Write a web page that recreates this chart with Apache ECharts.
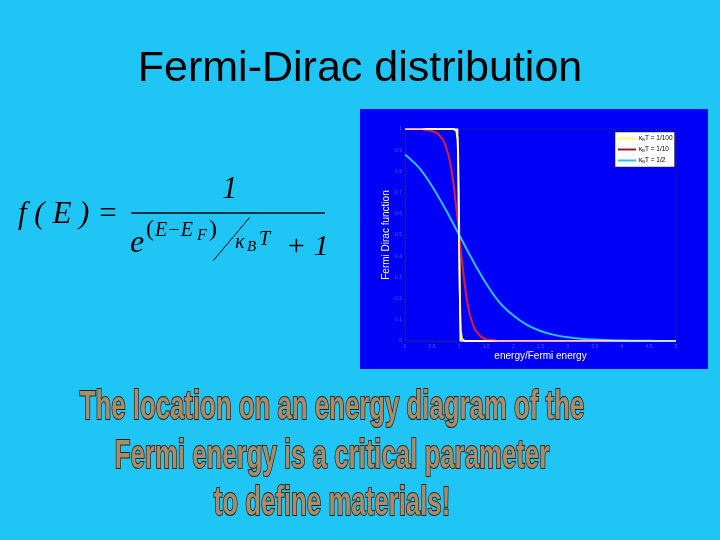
<!DOCTYPE html>
<html><head><meta charset="utf-8">
<script src="https://cdn.jsdelivr.net/npm/echarts@6/dist/echarts.min.js"></script>
<style>html,body{margin:0;padding:0;background:#1fc6f5;}#c{width:720px;height:540px;}</style>
</head><body><div id="c"></div>
<script>
// x values: energy / Fermi energy ; y: Fermi Dirac function
var xTicks = [0, 0.5, 1, 1.5, 2, 2.5, 3, 3.5, 4, 4.5, 5];
var yTicks = [0, 0.1, 0.2, 0.3, 0.4, 0.5, 0.6, 0.7, 0.8, 0.9, 1];
var seriesNames = ['kT100', 'kT10', 'kT2'];
var legendLabels = ['1/100', '1/10', '1/2'];
var kT100X = [0, 0.9, 0.95, 0.97, 0.98, 0.99, 1.0, 1.01, 1.02, 1.03, 1.05, 1.1, 5];
var kT100Y = [1, 1, 0.99, 0.95, 0.88, 0.73, 0.5, 0.27, 0.12, 0.05, 0.01, 0, 0];
var kT10X = [0, 0.3, 0.5, 0.6, 0.7, 0.75, 0.8, 0.85, 0.9, 0.95, 1.0, 1.05, 1.1, 1.15, 1.2, 1.25, 1.3, 1.4, 1.5, 1.7, 2, 5];
var kT10Y = [1, 1, 0.99, 0.98, 0.95, 0.92, 0.88, 0.82, 0.73, 0.62, 0.5, 0.38, 0.27, 0.18, 0.12, 0.08, 0.05, 0.02, 0.007, 0.001, 0, 0];
var kT2X = [0, 0.25, 0.5, 0.75, 1, 1.25, 1.5, 1.75, 2, 2.25, 2.5, 2.75, 3, 3.25, 3.5, 4, 4.5, 5];
var kT2Y = [0.88, 0.82, 0.73, 0.62, 0.5, 0.38, 0.27, 0.18, 0.12, 0.076, 0.047, 0.029, 0.018, 0.011, 0.007, 0.002, 0.001, 0];
var stepX = [0, 0.97, 1.02, 5];
var stepY = [1, 1, 0, 0];
var bottomLines = ['The location on an energy diagram of the', 'Fermi energy is a critical parameter', 'to define materials!'];

function pairs(xs, ys) { return xs.map(function (x, i) { return [x, ys[i]]; }); }

var chart = echarts.init(document.getElementById('c'), null, {renderer: 'canvas'});
var serif = '"Liberation Serif","DejaVu Serif",serif';
var boldFont = '"Liberation Sans Narrow","Liberation Sans","DejaVu Sans Condensed",sans-serif';
var option = {
  backgroundColor: '#1fc6f5',
  animation: false,
  title: {
    text: 'Fermi-Dirac distribution', left: 'center', top: 43,
    textStyle: {fontFamily: '"Liberation Sans",Arial,sans-serif', fontSize: 43, fontWeight: 'normal', color: '#000'}
  },
  graphic: [
    {type: 'rect', z: -10, shape: {x: 360, y: 109, width: 348, height: 260}, style: {fill: '#0000f6'}},
    // formula
    {type: 'text', x: 18, y: 199, style: {text: 'f ( E ) =', font: 'italic 31px ' + serif, fill: '#000'}},
    {type: 'text', x: 222, y: 174, style: {text: '1', font: 'italic 31px ' + serif, fill: '#000'}},
    {type: 'line', shape: {x1: 131, y1: 213, x2: 325, y2: 213}, style: {stroke: '#000', lineWidth: 1.3}},
    {type: 'text', x: 146, y: 218, style: {text: '(', font: '24px ' + serif, fill: '#000'}},
    {type: 'text', x: 155, y: 221, style: {text: 'E\u2212E', font: 'italic 20px ' + serif, fill: '#000'}},
    {type: 'text', x: 197, y: 228, style: {text: 'F', font: 'italic 16px ' + serif, fill: '#000'}},
    {type: 'text', x: 209, y: 218, style: {text: ')', font: '24px ' + serif, fill: '#000'}},
    {type: 'line', shape: {x1: 250, y1: 217, x2: 213, y2: 261}, style: {stroke: '#000', lineWidth: 1}},
    {type: 'text', x: 235, y: 233, style: {text: '\u03ba', font: 'italic 20px ' + serif, fill: '#000'}},
    {type: 'text', x: 247, y: 240, style: {text: 'B', font: 'italic 15px ' + serif, fill: '#000'}},
    {type: 'text', x: 259, y: 230, style: {text: 'T', font: 'italic 20px ' + serif, fill: '#000'}},
    {type: 'text', x: 130, y: 228, style: {text: 'e', font: 'italic 32px ' + serif, fill: '#000'}},
    {type: 'text', x: 286, y: 232, style: {text: '+ 1', font: 'italic 30px ' + serif, fill: '#000'}}
  ].concat(bottomLines.map(function (t, i) {
    return {type: 'text', x: 332, y: [408, 457, 504][i], scaleX: 0.645,
      style: {text: t, font: 'bold 40px ' + boldFont, fill: '#a78d6c', stroke: '#2a2016', lineWidth: 2,
        align: 'center', verticalAlign: 'middle'}};
  })),
  legend: {
    orient: 'vertical', left: 615, top: 132, width: 58,
    icon: 'rect', itemWidth: 18, itemHeight: 2, itemGap: 4,
    padding: [3, 2, 3, 3],
    backgroundColor: '#fff', borderColor: '#222', borderWidth: 0.5,
    data: seriesNames,
    formatter: function (name) {
      var i = seriesNames.indexOf(name);
      return '{a|\u03ba}{s|B}{a|T = ' + legendLabels[i] + '}';
    },
    textStyle: {
      fontSize: 6, color: '#000', padding: [0, 0, 0, -2],
      rich: {a: {fontSize: 6.5, color: '#000'}, s: {fontSize: 4, color: '#000', verticalAlign: 'bottom', padding: [3, 0, 0, 0]}}
    }
  },
  grid: {left: 405, right: 44, top: 129, bottom: 199, show: true, borderColor: '#1a1aa8', borderWidth: 1},
  xAxis: {
    type: 'value', min: 0, max: 5, interval: 0.5,
    name: 'energy/Fermi energy', nameLocation: 'middle', nameGap: 10,
    nameTextStyle: {color: '#fff', fontSize: 10, fontFamily: '"Liberation Sans",Arial,sans-serif'},
    axisLine: {lineStyle: {color: '#1a1aa8'}},
    axisTick: {inside: true, length: 2, lineStyle: {color: '#1a1aa8'}},
    axisLabel: {fontSize: 5, color: '#5c5cd8', margin: 3},
    splitLine: {show: false}
  },
  yAxis: {
    type: 'value', min: 0, max: 1, interval: 0.1,
    name: 'Fermi Dirac function', nameLocation: 'middle', nameGap: 13,
    nameTextStyle: {color: '#fff', fontSize: 10, fontFamily: '"Liberation Sans",Arial,sans-serif'},
    axisLine: {lineStyle: {color: '#1a1aa8'}},
    axisTick: {inside: true, length: 2, lineStyle: {color: '#1a1aa8'}},
    axisLabel: {fontSize: 5, color: '#5c5cd8', margin: 3, formatter: function (v) { return v === 0 || v === 1 ? String(v) : v.toFixed(1); }},
    splitLine: {show: false}
  },
  series: [
    {name: seriesNames[0], type: 'line', data: pairs(kT100X, kT100Y), symbol: 'none', lineStyle: {color: '#ffff30', width: 2}, itemStyle: {color: '#ffff60'}, z: 2},
    {name: seriesNames[1], type: 'line', data: pairs(kT10X, kT10Y), symbol: 'none', lineStyle: {color: '#e01c3c', width: 2}, itemStyle: {color: '#a01828'}, z: 3},
    {name: seriesNames[2], type: 'line', data: pairs(kT2X, kT2Y), symbol: 'none', smooth: 0.3, lineStyle: {color: '#29c3ee', width: 2}, itemStyle: {color: '#29c3ee'}, z: 4},
    {name: 'step', type: 'line', data: pairs(stepX, stepY), symbol: 'none', lineStyle: {color: '#ffffff', width: 1.5}, z: 5}
  ]
};
chart.setOption(option);
</script></body></html>
